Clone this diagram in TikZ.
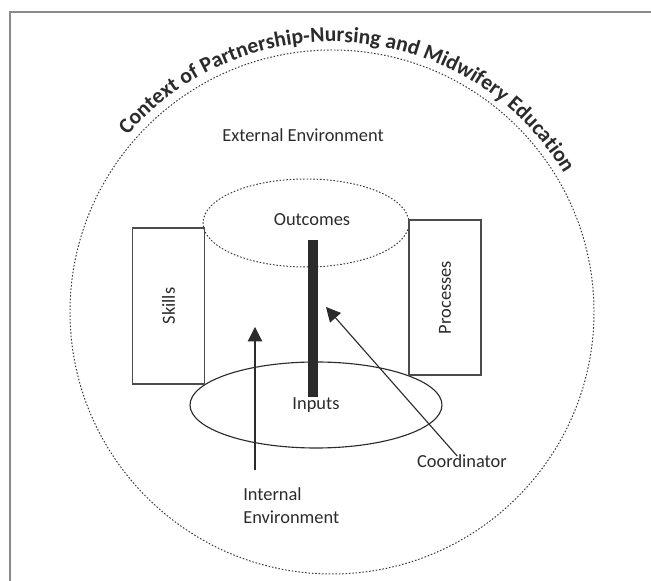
\documentclass[tikz,border=0pt]{standalone}
\usepackage{fontspec}
\setmainfont{Carlito}
\usetikzlibrary{arrows.meta, decorations.text}
\definecolor{ink}{HTML}{2B2B2B}
\definecolor{framegray}{HTML}{8A8A8A}
\definecolor{dotgray}{HTML}{3A3A3A}

\tikzset{
  lbl/.style={font=\fontsize{13.1}{16.3}\selectfont, text=ink, inner sep=1pt},
  sidebox/.style={lbl, draw=ink!85, line width=0.8pt, minimum width=3.9cm, minimum height=1.8cm, rotate=90},
  dotline/.style={dotgray, line width=0.7pt, dash pattern=on 1.1pt off 1.3pt},
}

\begin{document}
\begin{tikzpicture}[>={Triangle[length=3.6mm, width=3.6mm]}]
\useasboundingbox (0,0) rectangle (16.275,14.525);

% --- Frame (open at right and bottom) ---
\draw[framegray, line width=1.3pt] (0.25,0) -- (0.25,14.225) -- (16.275,14.225);

% --- External environment ---
\draw[dotline] (8.3,6.725) circle (6.55);
\node[lbl] (extenv) at (7.575,11.15) {External Environment};

% Title bent along the circle
\path[decorate, decoration={text along path, text align=center, text color=ink,
  text={|\fontsize{15.4}{17}\selectfont\bfseries|Context of Partnership-Nursing and Midwifery Education}}]
  ({8.3+6.75*cos(150)},{6.725+6.75*sin(150)}) arc[start angle=150, end angle=20, radius=6.75];

% --- Outcomes (top) and Inputs (bottom) ---
\draw[dotline] (7.65,8.95) ellipse (2.575 and 1.1);
\node[lbl] (outcomes) at (7.8,9.025) {Outcomes};

\draw[ink, line width=0.8pt] (7.9,4.4) ellipse (3.15 and 1.075);
\node[lbl] (inputs) at (7.9,4.4) {Inputs};

% Coordinator bar
\fill[ink] (7.7,4.6) rectangle (7.95,8.525);

% --- Side boxes ---
\node[sidebox] (skills) at (4.2125,6.875) {Skills};
\node[sidebox, minimum width=3.875cm] (processes) at (11.125,7.0875) {Processes};

% --- Internal environment arrow ---
\node[lbl, anchor=west, align=left] (intenv) at (6.04,1.89) {Internal\\Environment};
\coordinate (intfoot) at (6.375,2.775);
\coordinate (inttip) at (6.375,6.35);
\draw[->, ink, line width=0.8pt] (intfoot) -- (inttip);

% --- Coordinator arrow ---
\node[lbl] (coord) at (11.55,3.0) {Coordinator};
\coordinate (cortip) at (8.15,6.85);
\draw[->, ink, line width=0.8pt] ([xshift=-1.2mm, yshift=-0.8mm]coord.north) -- (cortip);

\end{tikzpicture}
\end{document}
